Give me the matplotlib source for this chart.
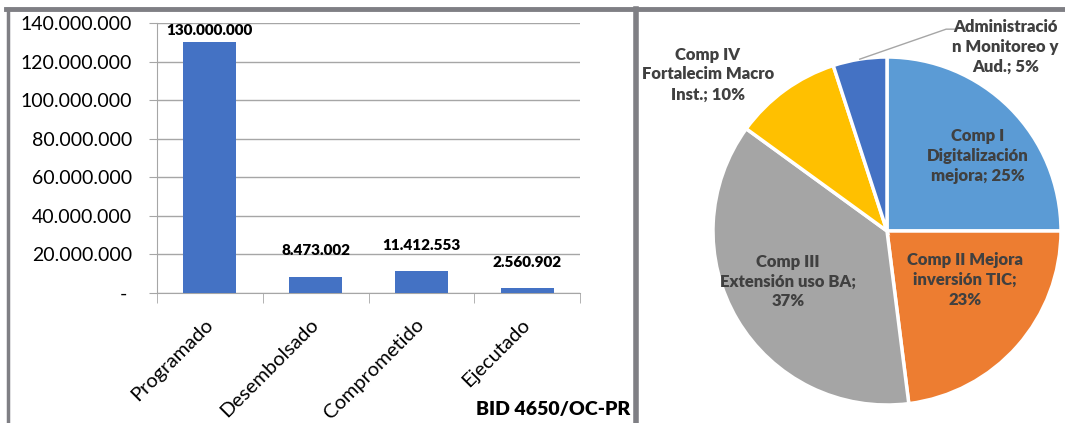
import numpy as np
import matplotlib
matplotlib.use('Agg')
import matplotlib.pyplot as plt
from matplotlib.lines import Line2D
from matplotlib.ticker import FuncFormatter

plt.rcParams['font.family'] = ['Lato', 'DejaVu Sans']

# bar chart data
categories = ['Programado', 'Desembolsado', 'Comprometido', 'Ejecutado']
amounts = [130000000, 8473002, 11412553, 2560902]
label_offsets = [4, 14, 14, 14]  # points above bar top

# pie chart data
pie_labels = ['Comp I\nDigitalización\nmejora; 25%',
              'Comp II Mejora\ninversión TIC;\n23%',
              'Comp III\nExtensión uso BA;\n37%',
              'Comp IV\nFortalecim Macro\nInst.; 10%',
              'Administració\nn Monitoreo y\nAud.; 5%']
pie_values = [25, 23, 37, 10, 5]
pie_colors = ['#5B9BD5', '#ED7D31', '#A5A5A5', '#FFC000', '#4472C4']
label_xy = [(0.52, 0.43), (0.45, -0.28), (-0.57, -0.29), (-1.03, 0.90), (0.68, 1.06)]

W, H = 1065, 423
fig = plt.figure(figsize=(W / 100, H / 100), dpi=100)

# frame lines
frame = '#7f7f84'
fig.add_artist(Line2D([6 / W, 1], [1 - 9.5 / H, 1 - 9.5 / H], transform=fig.transFigure, color=frame, lw=3.5))
fig.add_artist(Line2D([7.5 / W, 7.5 / W], [0, 1 - 9.5 / H], transform=fig.transFigure, color=frame, lw=2.5))
fig.add_artist(Line2D([636 / W, 636 / W], [0, 1 - 9.5 / H], transform=fig.transFigure, color=frame, lw=4))

# ---- bar chart ----
ax = fig.add_axes([157 / W, (H - 293) / H, (580 - 157) / W, (293 - 23) / H])
x = np.arange(len(categories))
ax.bar(x, amounts, width=0.5, color='#4472C4', zorder=3)
ax.set_xlim(-0.5, len(categories) - 0.5)
ax.set_ylim(0, 140000000)
ax.set_yticks(np.arange(0, 140000001, 20000000))
ax.yaxis.set_major_formatter(FuncFormatter(lambda v, p: '- ' if v == 0 else f'{v:,.0f}'.replace(',', '.')))
ax.grid(axis='y', color='#a6a6a6', lw=1, zorder=0)
ax.set_axisbelow(True)
for s in ['top', 'right']:
    ax.spines[s].set_visible(False)
for s in ['left', 'bottom']:
    ax.spines[s].set_color('#a6a6a6')
ax.tick_params(axis='y', length=6, color='#a6a6a6', labelsize=14, pad=12)
ax.set_xticks(x)
ax.set_xticks(np.arange(-0.5, len(categories), 1), minor=True)
ax.tick_params(axis='x', which='major', length=0, labelsize=14.5, pad=21)
ax.tick_params(axis='x', which='minor', length=7, color='#a6a6a6')
ax.set_xticklabels(categories, rotation=45, ha='right', va='center', rotation_mode='anchor')
for xi, v, off in zip(x, amounts, label_offsets):
    ax.annotate(f'{v:,.0f}'.replace(',', '.'), (xi, v), xytext=(0, off), textcoords='offset points',
                ha='center', va='bottom', fontsize=11, fontweight='heavy')
fig.text(630 / W, 5 / H, 'BID 4650/OC-PR', ha='right', va='bottom', fontsize=14, fontweight='heavy')

# ---- pie chart ----
R = 174
cx, cy = 887, 231
pax = fig.add_axes([(cx - R) / W, (H - cy - R) / H, 2 * R / W, 2 * R / H])
wedges, _ = pax.pie(pie_values, colors=pie_colors, startangle=90, counterclock=False,
                    wedgeprops=dict(edgecolor='white', linewidth=2.5))
pax.set_xlim(-1, 1)
pax.set_ylim(-1, 1)
for lab, (lx, ly) in zip(pie_labels, label_xy):
    pax.text(lx, ly, lab, ha='center', va='center', fontsize=12, fontweight='heavy',
             color='#404040', linespacing=1.3, clip_on=False)
# leader line for the small slice
w = wedges[-1]
mid = np.deg2rad((w.theta1 + w.theta2) / 2)
pax.plot([np.cos(mid), 0.34, 0.40], [np.sin(mid), 1.16, 1.16], color='#a6a6a6', lw=1, clip_on=False)

fig.savefig('out.png', dpi=100)
